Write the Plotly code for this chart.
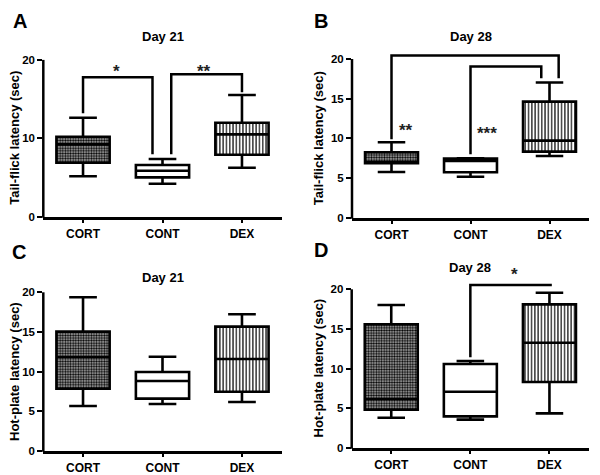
import plotly.graph_objects as go

W, H = 600, 475
OFF = 8  # the page body margin offsets the figure; compensate
FONT = "Liberation Sans, Arial, sans-serif"

categories = ["CORT", "CONT", "DEX"]

# Box statistics per panel: [CORT, CONT, DEX]
A_low = [5.15, 4.21, 6.25]
A_q1 = [6.89, 5.02, 7.91]
A_med = [9.23, 5.87, 10.5]
A_q3 = [10.2, 6.59, 11.99]
A_high = [12.63, 7.36, 15.52]

B_low = [5.76, 5.17, 7.78]
B_q1 = [6.86, 5.72, 8.33]
B_med = [7.0, 7.15, 9.71]
B_q3 = [8.24, 7.44, 14.63]
B_high = [9.5, 7.5, 17.03]

C_low = [5.64, 5.9, 6.15]
C_q1 = [7.83, 6.57, 7.45]
C_med = [11.83, 8.8, 11.58]
C_q3 = [15.03, 9.94, 15.66]
C_high = [19.37, 11.87, 17.22]

D_low = [3.79, 3.54, 4.34]
D_q1 = [4.8, 3.96, 8.3]
D_med = [6.15, 7.07, 13.26]
D_q3 = [15.58, 10.57, 18.1]
D_high = [18.02, 10.95, 19.57]

# Significance brackets: (x_left, x_right, y_top, y_left_end, y_right_end)
A_brackets = [(0, 0.874, 17.78, 13.19, 7.96), (1.11, 2, 18.16, 7.96, 15.87)]
B_brackets = [(0, 2.116, 20.43, 9.88, 17.58), (1, 1.896, 19.04, 7.99, 17.58)]
C_brackets = []
D_brackets = [(1, 2.03, 20.54, 11.41, 20.54)]

# Star labels: (text, x, y)
A_stars = [("*", 0.417, 19.2), ("**", 1.527, 19.2)]
B_stars = [("**", 0.18, 11.6), ("***", 1.205, 11.3)]
C_stars = []
D_stars = [("*", 1.558, 22.5)]

y_ticks_A = [0, 10, 20]
y_ticks_other = [0, 5, 10, 15, 20]

panels = [
    dict(letter="A", title="Day 21", ylabel="Tail-flick latency (sec)",
         stats=(A_low, A_q1, A_med, A_q3, A_high), brackets=A_brackets, stars=A_stars,
         ticks=y_ticks_A, left=43.3, right=281.7, y0=216.7, y20=59.9, ymax=21.5,
         letter_pos=(11, 21), title_y=36, ylab_x=14.5),
    dict(letter="B", title="Day 28", ylabel="Tail-flick latency (sec)",
         stats=(B_low, B_q1, B_med, B_q3, B_high), brackets=B_brackets, stars=B_stars,
         ticks=y_ticks_other, left=352, right=589, y0=217.7, y20=59, ymax=21.5,
         letter_pos=(312, 21), title_y=36, ylab_x=318),
    dict(letter="C", title="Day 21", ylabel="Hot-plate latency (sec)",
         stats=(C_low, C_q1, C_med, C_q3, C_high), brackets=C_brackets, stars=C_stars,
         ticks=y_ticks_other, left=43.3, right=281.7, y0=450.7, y20=292.3, ymax=20.3,
         letter_pos=(10, 252), title_y=277, ylab_x=14.5),
    dict(letter="D", title="Day 28", ylabel="Hot-plate latency (sec)",
         stats=(D_low, D_q1, D_med, D_q3, D_high), brackets=D_brackets, stars=D_stars,
         ticks=y_ticks_other, left=351.7, right=589, y0=447.7, y20=289.3, ymax=23.5,
         letter_pos=(312, 250), title_y=267, ylab_x=318),
]

# fill style per category
fill_bg = ["#b0b0b0", "white", "white"]
pattern_shapes = [".", "", "|"]
pattern_sizes = [2.6, 4, 3.3]
pattern_solid = [0.5, 0.3, 0.35]

FW, FH = W - OFF, H - OFF

fig = go.Figure()
layout = dict(template="none", width=FW, height=FH,
              margin=dict(l=0, r=0, t=0, b=0, pad=0, autoexpand=False),
              paper_bgcolor="white", plot_bgcolor="white", showlegend=False,
              barmode="overlay")
shapes = []
annotations = []


def px(p):
    return (p - OFF) / FW


def py(p):
    return 1 - (p - OFF) / FH


for i, p in enumerate(panels):
    n = "" if i == 0 else str(i + 1)
    xa, ya = "x" + n, "y" + n
    unit = (p["y0"] - p["y20"]) / 20.0
    ydom = [py(p["y0"]), py(p["y0"] - unit * p["ymax"])]
    xdom = [px(p["left"]), px(p["right"])]
    low, q1, med, q3, high = p["stats"]

    for k, cat in enumerate(categories):
        pat = dict(shape=pattern_shapes[k], size=pattern_sizes[k],
                   solidity=pattern_solid[k], fgcolor="black", bgcolor=fill_bg[k],
                   fillmode="replace")
        fig.add_trace(go.Bar(
            x=[cat], y=[q3[k] - q1[k]], base=[q1[k]], width=0.67,
            marker=dict(color=fill_bg[k], line=dict(width=0), pattern=pat),
            xaxis=xa, yaxis=ya, hoverinfo="skip"))
    fig.add_trace(go.Box(
        x=categories, lowerfence=low, q1=q1, median=med, q3=q3, upperfence=high,
        width=0.67, whiskerwidth=0.52, boxpoints=False,
        fillcolor="rgba(0,0,0,0)", line=dict(color="black", width=2.6),
        xaxis=xa, yaxis=ya))

    layout["xaxis" + n] = dict(domain=xdom, anchor=ya, type="category", automargin=False,
                               categoryorder="array", categoryarray=categories,
                               range=[-0.5, 2.5], showline=True, linecolor="black",
                               linewidth=2.5, ticks="outside", ticklen=4, tickwidth=2,
                               tickcolor="black", showgrid=False, zeroline=False,
                               tickfont=dict(family=FONT, size=12, color="black",
                                             weight="bold"))
    layout["yaxis" + n] = dict(domain=ydom, anchor=xa, range=[0, p["ymax"]],
                               automargin=False,
                               showline=False, ticks="outside", ticklen=5, tickwidth=2,
                               tickcolor="black", tickvals=p["ticks"], showgrid=False,
                               zeroline=False,
                               tickfont=dict(family=FONT, size=11.5, color="black",
                                             weight="bold"))
    # y axis line from 0 to 20
    shapes.append(dict(type="line", xref="paper", yref="paper",
                       x0=xdom[0], x1=xdom[0], y0=py(p["y0"] + 1), y1=py(p["y20"]),
                       line=dict(color="black", width=2.5)))

    for (xl, xr, yt, yle, yre) in p["brackets"]:
        shapes.append(dict(type="path", xref=xa, yref=ya,
                           path=f"M {xl},{yle} L {xl},{yt} L {xr},{yt} L {xr},{yre}",
                           line=dict(color="black", width=2.5)))
    for (txt, sx, sy) in p["stars"]:
        annotations.append(dict(text="<b>" + txt + "</b>", x=sx, y=sy, xref=xa, yref=ya,
                                showarrow=False, xanchor="center", yanchor="middle",
                                yshift=-5,
                                font=dict(family=FONT, size=17, color="#222")))

    annotations.append(dict(text="<b>" + p["letter"] + "</b>", x=px(p["letter_pos"][0]),
                            y=py(p["letter_pos"][1]), xref="paper", yref="paper",
                            xanchor="left", yanchor="middle", showarrow=False,
                            font=dict(family=FONT, size=20, color="black")))
    annotations.append(dict(text="<b>" + p["title"] + "</b>", x=(xdom[0] + xdom[1]) / 2,
                            y=py(p["title_y"]), xref="paper", yref="paper",
                            xanchor="center", yanchor="middle", showarrow=False,
                            font=dict(family=FONT, size=13, color="black")))
    annotations.append(dict(text="<b>" + p["ylabel"] + "</b>", x=px(p["ylab_x"]),
                            y=py((p["y0"] + p["y20"]) / 2), xref="paper", yref="paper",
                            xanchor="center", yanchor="middle", textangle=-90,
                            showarrow=False,
                            font=dict(family=FONT, size=13, color="black")))

layout["shapes"] = shapes
layout["annotations"] = annotations
fig.update_layout(**layout)
fig.write_html("out.html")
